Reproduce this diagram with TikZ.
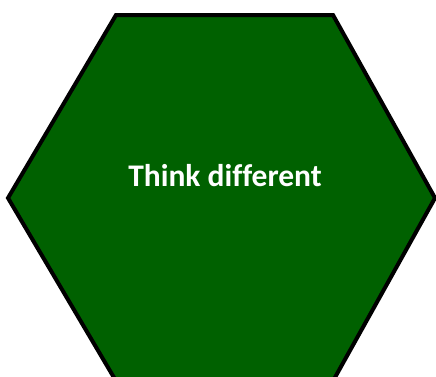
\documentclass[tikz,border=0pt]{standalone}
\usepackage{fontspec}
\setmainfont[Ligatures={NoCommon}]{Carlito}
\usepackage{tikz}
\usetikzlibrary{positioning}
\definecolor{hexgreen}{RGB}{0,97,0}

\begin{document}
\begin{tikzpicture}[
    x=1pt, y=1pt,
    hexa/.style={draw=black, fill=hexgreen, line width=4pt, line join=miter},
    lbl/.style={font=\fontsize{31.5}{38}\selectfont\bfseries, text=white, inner sep=0pt},
  ]
  \useasboundingbox (0,0) rectangle (436,376);
  \clip (0,0) rectangle (436,376);
  % hexagon corners
  \coordinate (tl) at (116,361);
  \coordinate (tr) at (333,361);
  \coordinate (r)  at (435,178);
  \coordinate (br) at (333,-5);
  \coordinate (bl) at (116,-5);
  \coordinate (l)  at (8,178);
  \draw[hexa] (tl) -- (tr) -- (r) -- (br) -- (bl) -- (l) -- cycle;
  \node[lbl, anchor=base] (txt) at (225,190) {Think different};
\end{tikzpicture}
\end{document}
